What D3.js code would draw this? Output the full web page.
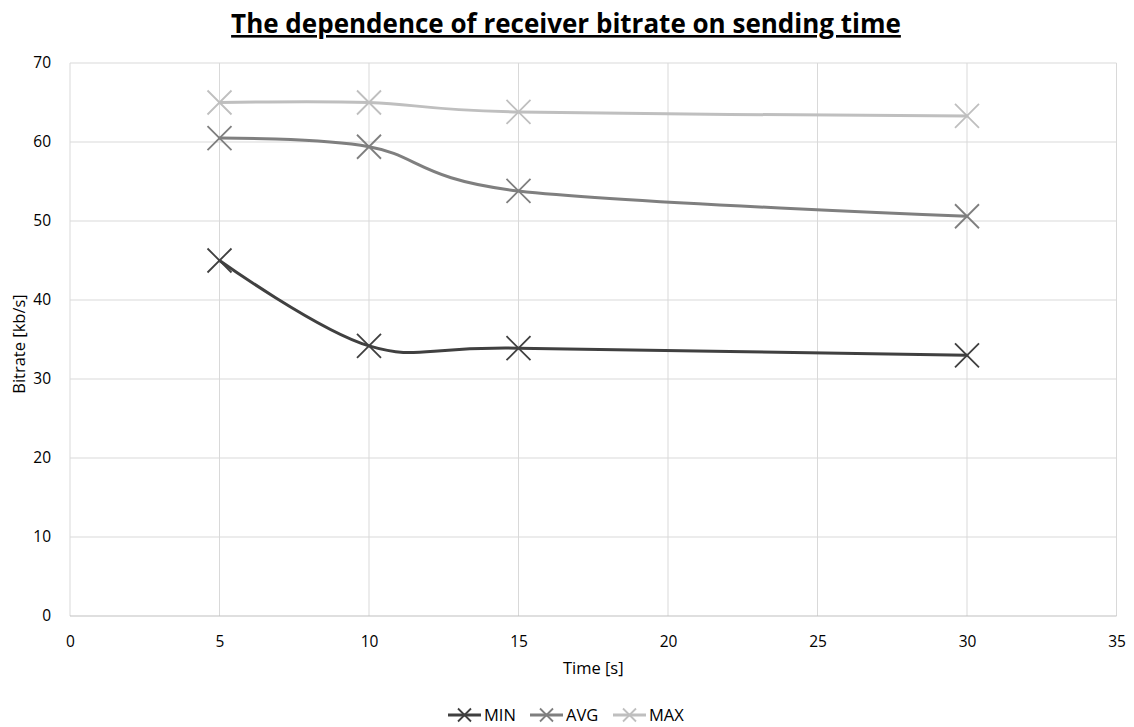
<!DOCTYPE html>
<html><head><meta charset="utf-8">
<script src="https://cdn.jsdelivr.net/npm/d3@7"></script>
<style>body{margin:0;background:#fff}svg{display:block}</style>
</head><body>
<svg id="c" width="1134" height="727"></svg>
<script>
const times = [5, 10, 15, 30];
const minVals = [45.0, 34.2, 33.9, 33.0];
const avgVals = [60.5, 59.4, 53.8, 50.6];
const maxVals = [65.0, 65.0, 63.8, 63.3];
const seriesNames = ["MIN", "AVG", "MAX"];
const seriesColors = ["#404040", "#7f7f7f", "#bfbfbf"];
const xTicks = [0, 5, 10, 15, 20, 25, 30, 35];
const yTicks = [0, 10, 20, 30, 40, 50, 60, 70];
const titleText = "The dependence of receiver bitrate on sending time";
const xTitle = "Time [s]";
const yTitle = "Bitrate [kb/s]";

const series = [minVals, avgVals, maxVals].map((v, i) => ({
  name: seriesNames[i], color: seriesColors[i],
  pts: times.map((t, j) => [t, v[j]])
}));

const svg = d3.select("#c");
const font = "'Open Sans', 'Liberation Sans', sans-serif";
const x = d3.scaleLinear().domain([0, 35]).range([70, 1116.5]);
const y = d3.scaleLinear().domain([0, 70]).range([616, 63]);

// gridlines
svg.append("g").selectAll("line").data(yTicks.filter(d => d > 0)).join("line")
  .attr("x1", x(0)).attr("x2", x(35)).attr("y1", d => y(d)).attr("y2", d => y(d))
  .attr("stroke", "#d9d9d9").attr("stroke-width", 1);
svg.append("g").selectAll("line").data(xTicks).join("line")
  .attr("x1", d => x(d)).attr("x2", d => x(d)).attr("y1", y(0)).attr("y2", y(70))
  .attr("stroke", "#d9d9d9").attr("stroke-width", 1);
svg.append("line").attr("x1", x(0)).attr("x2", x(35)).attr("y1", y(0)).attr("y2", y(0))
  .attr("stroke", "#bfbfbf").attr("stroke-width", 1);

// axes labels
const xAxis = d3.axisBottom(x).tickValues(xTicks).tickSize(0).tickPadding(20);
const gx = svg.append("g").attr("transform", `translate(0,${y(0)})`).call(xAxis);
gx.select(".domain").remove();
gx.selectAll("text").attr("font-family", font).attr("font-size", 15.5).attr("fill", "#000");

const yAxis = d3.axisLeft(y).tickValues(yTicks).tickSize(0).tickPadding(19);
const gy = svg.append("g").attr("transform", `translate(${x(0)},0)`).call(yAxis);
gy.select(".domain").remove();
gy.selectAll("text").attr("font-family", font).attr("font-size", 15.5).attr("fill", "#000");

// axis titles
svg.append("text").attr("x", (x(0) + x(35)) / 2).attr("y", 674).attr("text-anchor", "middle")
  .attr("font-family", font).attr("font-size", 16.5).text(xTitle);
svg.append("text").attr("transform", `translate(25,344) rotate(-90)`)
  .attr("text-anchor", "middle").attr("font-family", font).attr("font-size", 16.5).text(yTitle);

// title
svg.append("text").attr("x", 566).attr("y", 33).attr("text-anchor", "middle")
  .attr("font-family", font).attr("font-size", 26).attr("font-weight", "bold")
  .attr("text-decoration", "underline").text(titleText);

// lines
const line = d3.line().x(d => x(d[0])).y(d => y(d[1])).curve(d3.curveCardinal.tension(0));
const sg = svg.append("g").selectAll("g").data(series).join("g");
sg.append("path").attr("d", d => line(d.pts)).attr("fill", "none")
  .attr("stroke", d => d.color).attr("stroke-width", 3).attr("stroke-linecap", "round");
const m = 12;
sg.each(function(s) {
  d3.select(this).selectAll("path.mk").data(s.pts).join("path").attr("class", "mk")
    .attr("d", d => {
      const cx = x(d[0]), cy = y(d[1]);
      return `M${cx - m},${cy - m}L${cx + m},${cy + m}M${cx - m},${cy + m}L${cx + m},${cy - m}`;
    })
    .attr("stroke", s.color).attr("stroke-width", 1.8).attr("fill", "none");
});

// legend
const legendX = [448, 530, 613];
const lg = svg.append("g").selectAll("g").data(series).join("g")
  .attr("transform", (d, i) => `translate(${legendX[i]},715)`);
lg.append("line").attr("x1", 0).attr("x2", 33).attr("y1", 0).attr("y2", 0)
  .attr("stroke", d => d.color).attr("stroke-width", 3);
lg.append("path").attr("d", "M10,-6.5L23,6.5M10,6.5L23,-6.5").attr("stroke", d => d.color).attr("stroke-width", 1.8);
lg.append("text").attr("x", 36).attr("y", 6).attr("font-family", font).attr("font-size", 16.5)
  .text(d => d.name);
</script>
</body></html>
